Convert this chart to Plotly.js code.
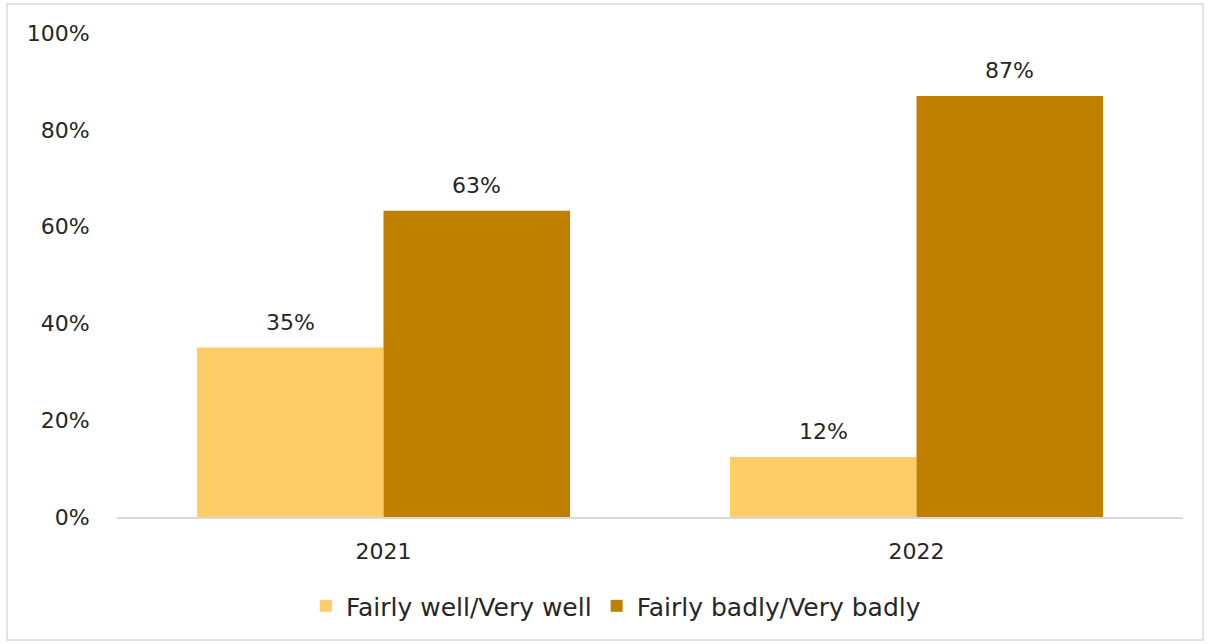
<!DOCTYPE html>
<html>
<head>
<meta charset="utf-8">
<script src="https://cdn.plot.ly/plotly-3.0.1.min.js"></script>
<style>html,body{margin:0;padding:0;background:#fff;}#chart{width:1208px;height:644px;}</style>
</head>
<body>
<div id="chart"></div>
<script>
const categories = ["2021", "2022"];
const seriesNames = ["Fairly well/Very well", "Fairly badly/Very badly"];
const wellValues = [35, 12.4];
const badlyValues = [63.3, 87];
const yTickVals = [0, 20, 40, 60, 80, 100];
const yTickText = ["0%", "20%", "40%", "60%", "80%", "100%"];

const FONT = "'DejaVu Sans', sans-serif";
const TXT = "#262626";
const traces = [
  {type: "bar", name: seriesNames[0], x: categories, y: wellValues,
   marker: {color: "#FFCC66"}},
  {type: "bar", name: seriesNames[1], x: categories, y: badlyValues,
   marker: {color: "#BF8000"}}
];
const annotations = [];
[wellValues, badlyValues].forEach((vals, s) => {
  vals.forEach((v, i) => {
    annotations.push({x: i + (s === 0 ? -0.175 : 0.175), y: v, xref: "x", yref: "y",
      text: Math.round(v) + "%", showarrow: false, yanchor: "bottom", yshift: 11,
      font: {family: FONT, size: 22, color: TXT}});
  });
});
const layout = {
  width: 1208, height: 644,
  margin: {l: 117, r: 25, t: 33, b: 127},
  paper_bgcolor: "#fff", plot_bgcolor: "#fff",
  font: {family: FONT, size: 22, color: TXT},
  barmode: "group", bargap: 0.3, bargroupgap: 0,
  showlegend: true,
  legend: {orientation: "h", x: 0.468, xanchor: "center", y: -0.184, yanchor: "middle",
           font: {family: FONT, size: 25, color: TXT}, traceorder: "normal", itemwidth: 30},
  xaxis: {type: "category", showgrid: false, showline: true, linecolor: "#d9d9d9", linewidth: 1.5,
          ticks: "outside", ticklen: 14, tickcolor: "rgba(0,0,0,0)",
          tickfont: {family: FONT, size: 22, color: TXT}, fixedrange: true},
  yaxis: {range: [0, 100], tickvals: yTickVals, ticktext: yTickText, showgrid: false,
          zeroline: false, showline: false, ticks: "outside", ticklen: 22, tickcolor: "rgba(0,0,0,0)",
          tickfont: {family: FONT, size: 22, color: TXT}, fixedrange: true},
  annotations: annotations,
  shapes: [{type: "rect", xref: "paper", yref: "paper",
            x0: -0.1032, x1: 1.0188, y0: -0.254, y1: 1.06,
            line: {color: "#d9d9d9", width: 1.5}, fillcolor: "rgba(0,0,0,0)", layer: "below"}]
};
Plotly.newPlot("chart", traces, layout, {displayModeBar: false, staticPlot: true});
</script>
</body>
</html>
